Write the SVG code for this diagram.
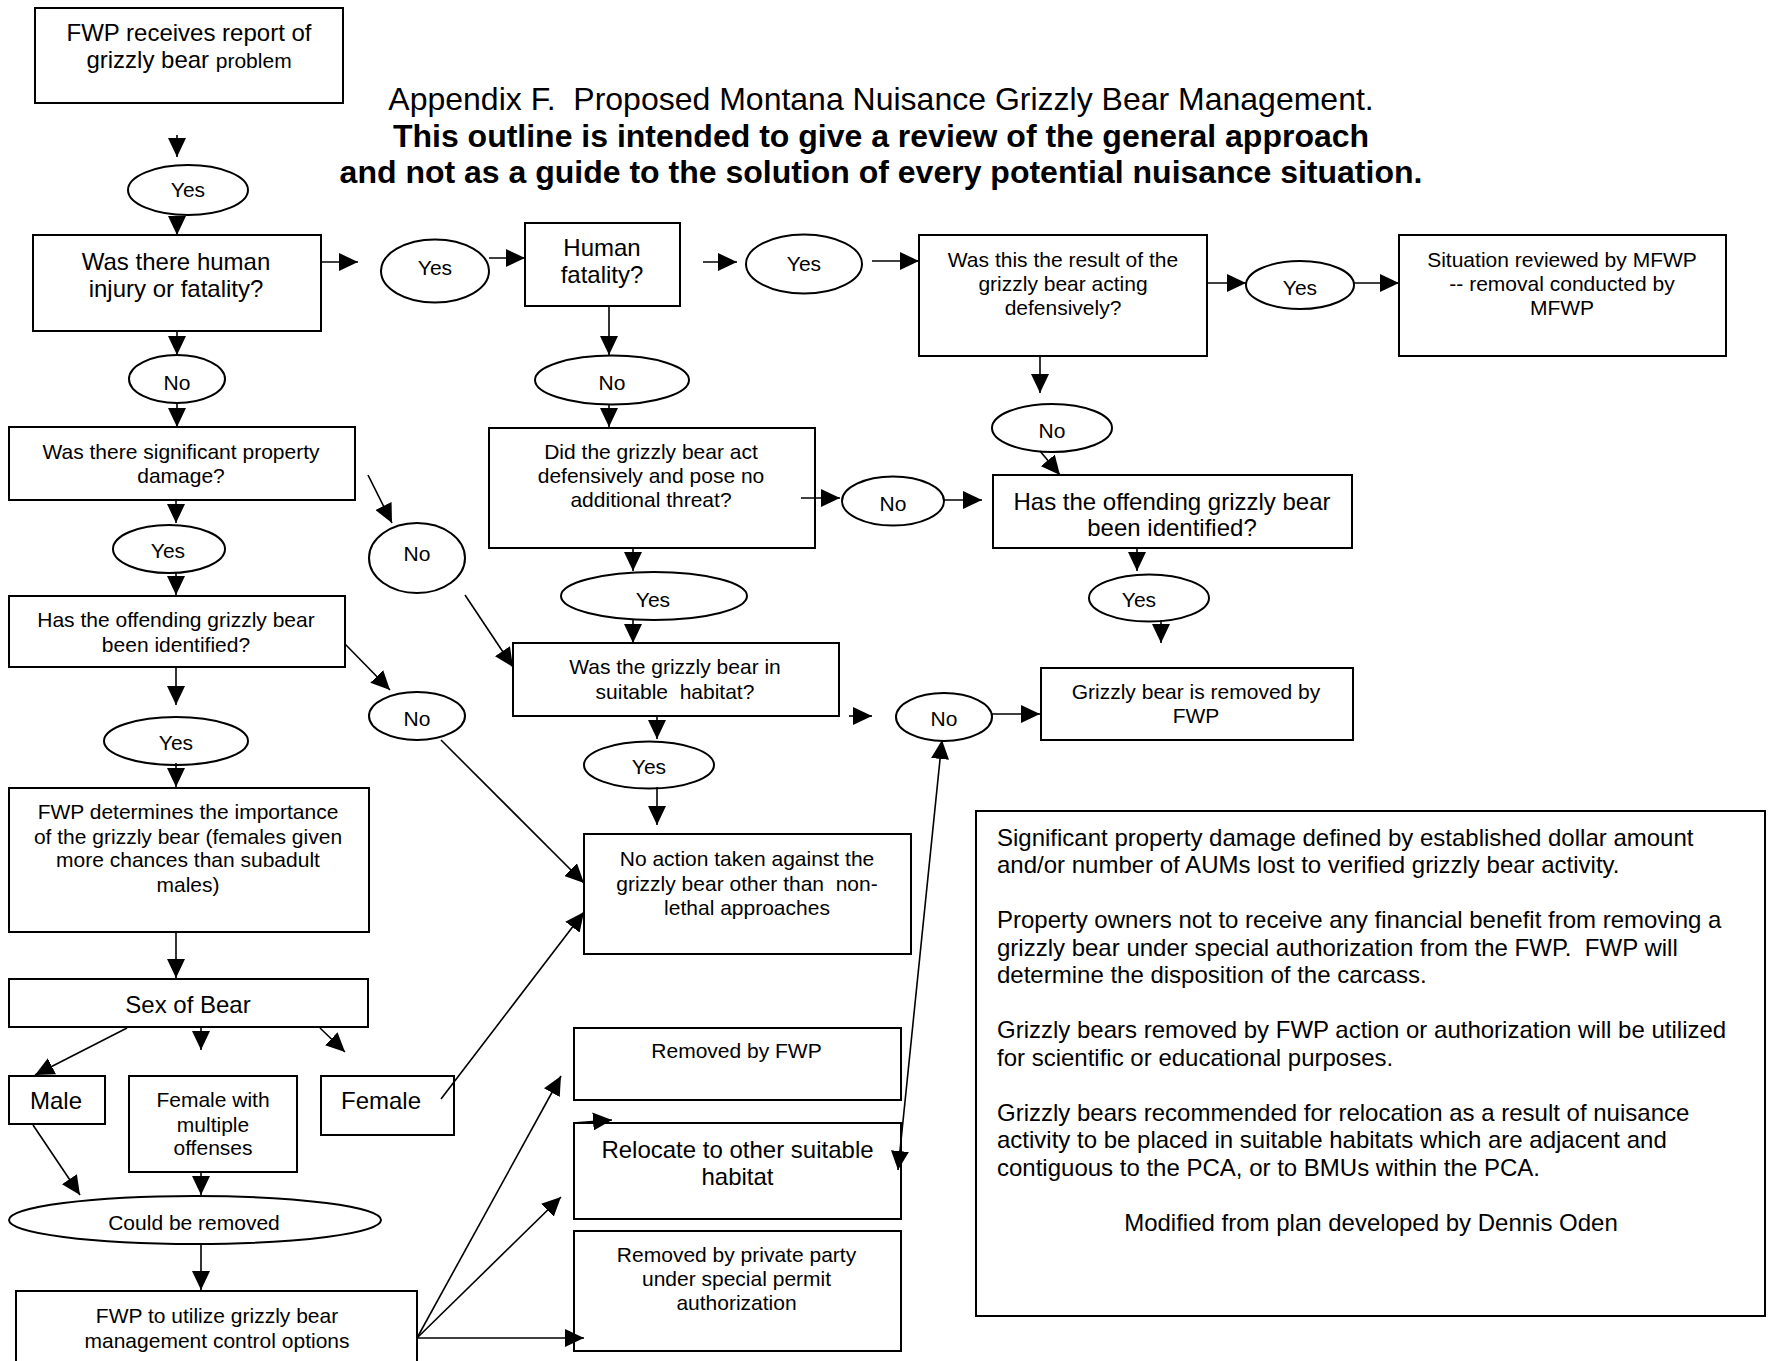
<svg xmlns="http://www.w3.org/2000/svg" width="1771" height="1361" viewBox="0 0 1771 1361">
<style>
rect, ellipse { fill: #fff; stroke: #000; stroke-width: 2; }
text { font-family: "Liberation Sans", Arial, sans-serif; fill: #000; text-anchor: middle; white-space: pre; }
.s { font-size: 21px; }
.l { font-size: 24px; }
.t { font-size: 32px; }
.b { font-weight: bold; }
.note { font-size: 24px; text-anchor: start; }
#connectors line { stroke: #000; stroke-width: 1.6; fill: none; marker-end: url(#ah); }
</style>
<defs>
<marker id="ah" viewBox="0 0 19 18" refX="19" refY="9" markerWidth="19" markerHeight="18" markerUnits="userSpaceOnUse" orient="auto"><path d="M0,0 L19,9 L0,18 z" fill="#000"/></marker>
<marker id="ahs" viewBox="0 0 19 18" refX="19" refY="9" markerWidth="19" markerHeight="18" markerUnits="userSpaceOnUse" orient="auto-start-reverse"><path d="M0,0 L19,9 L0,18 z" fill="#000"/></marker>
</defs>
<rect x="0" y="0" width="1771" height="1361" style="stroke:none;fill:#fff"/>

<g id="title">
<text class="t" x="881" y="109.5" xml:space="preserve">Appendix F.  Proposed Montana Nuisance Grizzly Bear Management.</text>
<text class="t b" x="881" y="147">This outline is intended to give a review of the general approach</text>
<text class="t b" x="881" y="183">and not as a guide to the solution of every potential nuisance situation.</text>
</g>

<g id="n-report"><rect x="35" y="8" width="308" height="95"/>
<text class="l" x="189" y="40.5">FWP receives report of</text>
<text class="l" x="189" y="67.5">grizzly bear <tspan class="s">problem</tspan></text></g>

<g id="e-yes1"><ellipse cx="188" cy="190" rx="60" ry="25"/><text class="s" x="188" y="197">Yes</text></g>

<g id="n-injury"><rect x="33" y="235" width="288" height="96"/>
<text class="l" x="176" y="269.5">Was there human</text>
<text class="l" x="176" y="296.5">injury or fatality?</text></g>

<g id="e-yes2"><ellipse cx="435" cy="271" rx="54" ry="31.5"/><text class="s" x="435" y="274.5">Yes</text></g>

<g id="n-fatality"><rect x="525" y="223" width="155" height="83"/>
<text class="l" x="602" y="255.5">Human</text>
<text class="l" x="602" y="282.5">fatality?</text></g>

<g id="e-yes3"><ellipse cx="804" cy="264" rx="58" ry="29.5"/><text class="s" x="804" y="270.5">Yes</text></g>

<g id="n-defensive"><rect x="919" y="235" width="288" height="121"/>
<text class="s" x="1063" y="266.5">Was this the result of the</text>
<text class="s" x="1063" y="291">grizzly bear acting</text>
<text class="s" x="1063" y="314.5">defensively?</text></g>

<g id="e-yes4"><ellipse cx="1300" cy="285" rx="54" ry="24"/><text class="s" x="1300" y="294.5">Yes</text></g>

<g id="n-mfwp"><rect x="1399" y="235" width="327" height="121"/>
<text class="s" x="1562" y="266.5">Situation reviewed by MFWP</text>
<text class="s" x="1562" y="291">-- removal conducted by</text>
<text class="s" x="1562" y="314.5">MFWP</text></g>

<g id="e-no1"><ellipse cx="177" cy="379" rx="48" ry="24"/><text class="s" x="177" y="390">No</text></g>

<g id="e-no2"><ellipse cx="612" cy="380" rx="77" ry="24.5"/><text class="s" x="612" y="389.5">No</text></g>

<g id="e-no3"><ellipse cx="1052" cy="428" rx="60" ry="24"/><text class="s" x="1052" y="437.5">No</text></g>

<g id="n-property"><rect x="9" y="427" width="346" height="73"/>
<text class="s" x="181" y="458.5">Was there significant property</text>
<text class="s" x="181" y="483">damage?</text></g>

<g id="n-didact"><rect x="489" y="428" width="326" height="120"/>
<text class="s" x="651" y="458.5">Did the grizzly bear act</text>
<text class="s" x="651" y="483">defensively and pose no</text>
<text class="s" x="651" y="506.5">additional threat?</text></g>

<g id="e-no4"><ellipse cx="893" cy="501" rx="51" ry="24.5"/><text class="s" x="893" y="510.5">No</text></g>

<g id="n-identified-r"><rect x="993" y="475" width="359" height="73"/>
<text class="l" x="1172" y="510">Has the offending grizzly bear</text>
<text class="l" x="1172" y="536">been identified?</text></g>

<g id="e-yes5"><ellipse cx="169" cy="549" rx="56" ry="24"/><text class="s" x="168" y="557.5">Yes</text></g>

<g id="e-no5"><ellipse cx="417" cy="558" rx="48" ry="35"/><text class="s" x="417" y="560.5">No</text></g>

<g id="e-yes6"><ellipse cx="654" cy="596" rx="93" ry="24"/><text class="s" x="653" y="606.5">Yes</text></g>

<g id="e-yes7"><ellipse cx="1149" cy="598" rx="60" ry="23.5"/><text class="s" x="1139" y="606.5">Yes</text></g>

<g id="n-identified-l"><rect x="9" y="596" width="336" height="71"/>
<text class="s" x="176" y="626.5">Has the offending grizzly bear</text>
<text class="s" x="176" y="651.5">been identified?</text></g>

<g id="n-habitat"><rect x="513" y="643" width="326" height="73"/>
<text class="s" x="675" y="673.5">Was the grizzly bear in</text>
<text class="s" x="675" y="698.5" xml:space="preserve">suitable  habitat?</text></g>

<g id="n-removed-fwp-r"><rect x="1041" y="668" width="312" height="72"/>
<text class="s" x="1196" y="698.5">Grizzly bear is removed by</text>
<text class="s" x="1196" y="722.5">FWP</text></g>

<g id="e-no6"><ellipse cx="417" cy="716" rx="48" ry="24"/><text class="s" x="417" y="725.5">No</text></g>

<g id="e-no7"><ellipse cx="944" cy="717" rx="48" ry="24"/><text class="s" x="944" y="725.5">No</text></g>

<g id="e-yes8"><ellipse cx="176" cy="741" rx="72" ry="24"/><text class="s" x="176" y="749.5">Yes</text></g>

<g id="e-yes9"><ellipse cx="649" cy="765" rx="65" ry="23.5"/><text class="s" x="649" y="773.5">Yes</text></g>

<g id="n-importance"><rect x="9" y="788" width="360" height="144"/>
<text class="s" x="188" y="818.5">FWP determines the importance</text>
<text class="s" x="188" y="843.5">of the grizzly bear (females given</text>
<text class="s" x="188" y="867">more chances than subadult</text>
<text class="s" x="188" y="891.5">males)</text></g>

<g id="n-noaction"><rect x="584" y="834" width="327" height="120"/>
<text class="s" x="747" y="865.5">No action taken against the</text>
<text class="s" x="747" y="890.5" xml:space="preserve">grizzly bear other than  non-</text>
<text class="s" x="747" y="914.5">lethal approaches</text></g>

<g id="n-note"><rect x="976" y="811" width="789" height="505"/>
<text class="note" x="997" y="845.5">Significant property damage defined by established dollar amount</text>
<text class="note" x="997" y="873">and/or number of AUMs lost to verified grizzly bear activity.</text>
<text class="note" x="997" y="928">Property owners not to receive any financial benefit from removing a</text>
<text class="note" x="997" y="955.5" xml:space="preserve">grizzly bear under special authorization from the FWP.  FWP will</text>
<text class="note" x="997" y="983">determine the disposition of the carcass.</text>
<text class="note" x="997" y="1038">Grizzly bears removed by FWP action or authorization will be utilized</text>
<text class="note" x="997" y="1065.5">for scientific or educational purposes.</text>
<text class="note" x="997" y="1120.5">Grizzly bears recommended for relocation as a result of nuisance</text>
<text class="note" x="997" y="1148">activity to be placed in suitable habitats which are adjacent and</text>
<text class="note" x="997" y="1175.5">contiguous to the PCA, or to BMUs within the PCA.</text>
<text class="l" x="1371" y="1230.5">Modified from plan developed by Dennis Oden</text></g>

<g id="n-sex"><rect x="9" y="979" width="359" height="48"/>
<text class="l" x="188" y="1012.5">Sex of Bear</text></g>

<g id="n-removed-fwp"><rect x="574" y="1028" width="327" height="72"/>
<text class="s" x="736.5" y="1058">Removed by FWP</text></g>

<g id="n-male"><rect x="9" y="1076" width="96" height="48"/>
<text class="l" x="56" y="1108.5">Male</text></g>

<g id="n-female-multi"><rect x="129" y="1076" width="168" height="96"/>
<text class="s" x="213" y="1106.5">Female with</text>
<text class="s" x="213" y="1131.5">multiple</text>
<text class="s" x="213" y="1155">offenses</text></g>

<g id="n-female"><rect x="321" y="1076" width="133" height="59"/>
<text class="l" x="381" y="1108.5">Female</text></g>

<g id="n-relocate"><rect x="574" y="1123" width="327" height="96"/>
<text class="l" x="737.5" y="1157.5">Relocate to other suitable</text>
<text class="l" x="737.5" y="1184.5">habitat</text></g>

<g id="e-could"><ellipse cx="195" cy="1220" rx="186" ry="24"/>
<text class="s" x="194" y="1229.5">Could be removed</text></g>

<g id="n-private"><rect x="574" y="1231" width="327" height="120"/>
<text class="s" x="736.5" y="1261.5">Removed by private party</text>
<text class="s" x="736.5" y="1286">under special permit</text>
<text class="s" x="736.5" y="1309.5">authorization</text></g>

<g id="n-options"><rect x="16" y="1291" width="401" height="80"/>
<text class="s" x="217" y="1322.5">FWP to utilize grizzly bear</text>
<text class="s" x="217" y="1347.5">management control options</text></g>

<g id="connectors">
<line x1="177" y1="135" x2="177" y2="157"/>
<line x1="177" y1="216" x2="177" y2="235"/>
<line x1="321" y1="262" x2="358" y2="262"/>
<line x1="489" y1="258" x2="525" y2="258"/>
<line x1="609" y1="306" x2="609" y2="355"/>
<line x1="609" y1="404" x2="609" y2="427"/>
<line x1="703" y1="262" x2="737" y2="262"/>
<line x1="872" y1="261" x2="919" y2="261"/>
<line x1="1207" y1="283" x2="1246" y2="283"/>
<line x1="1354" y1="283" x2="1399" y2="283"/>
<line x1="1040" y1="356" x2="1040" y2="393"/>
<line x1="1040" y1="451" x2="1060" y2="475"/>
<line x1="801" y1="498" x2="840" y2="498"/>
<line x1="944" y1="500" x2="982" y2="500"/>
<line x1="1137" y1="548" x2="1137" y2="571"/>
<line x1="1161" y1="620" x2="1161" y2="643"/>
<line x1="849" y1="716" x2="872" y2="716"/>
<line x1="992" y1="714" x2="1040" y2="714"/>
<line x1="898" y1="1170" x2="942" y2="740" style="marker-start:url(#ahs)"/>
<line x1="177" y1="331" x2="177" y2="355"/>
<line x1="177" y1="403" x2="177" y2="427"/>
<line x1="176" y1="500" x2="176" y2="523"/>
<line x1="176" y1="572" x2="176" y2="595"/>
<line x1="368" y1="475" x2="392" y2="523"/>
<line x1="465" y1="595" x2="513" y2="667"/>
<line x1="345" y1="644" x2="390" y2="690"/>
<line x1="441" y1="740" x2="584" y2="883"/>
<line x1="176" y1="667" x2="176" y2="705"/>
<line x1="176" y1="763" x2="176" y2="787"/>
<line x1="176" y1="932" x2="176" y2="978"/>
<line x1="127" y1="1028" x2="35" y2="1075"/>
<line x1="201" y1="1028" x2="201" y2="1050"/>
<line x1="320" y1="1028" x2="345" y2="1052"/>
<line x1="441" y1="1099" x2="584" y2="912"/>
<line x1="33" y1="1125" x2="80" y2="1195"/>
<line x1="201" y1="1172" x2="201" y2="1195"/>
<line x1="201" y1="1243" x2="201" y2="1290"/>
<line x1="417" y1="1338" x2="561" y2="1076"/>
<line x1="417" y1="1338" x2="561" y2="1197"/>
<line x1="417" y1="1338" x2="584" y2="1338"/>
<line x1="573" y1="1123" x2="612" y2="1120"/>
<line x1="633" y1="548" x2="633" y2="571"/>
<line x1="633" y1="619" x2="633" y2="643"/>
<line x1="657" y1="716" x2="657" y2="739"/>
<line x1="657" y1="787" x2="657" y2="825"/>
</g>
</svg>
